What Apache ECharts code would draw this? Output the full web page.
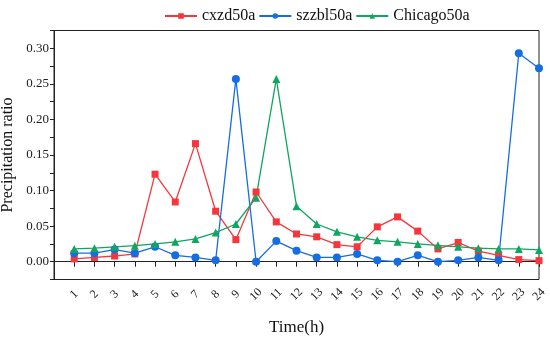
<!DOCTYPE html>
<html><head><meta charset="utf-8">
<script src="https://cdn.jsdelivr.net/npm/echarts@6/dist/echarts.min.js"></script>
<style>html,body{margin:0;padding:0;background:#fff}#c{width:550px;height:338px}</style>
</head><body><div id="c"></div>
<script>
const hours = [1,2,3,4,5,6,7,8,9,10,11,12,13,14,15,16,17,18,19,20,21,22,23,24];
const cxzd50a = [0.004,0.006,0.008,0.011,0.123,0.084,0.166,0.071,0.031,0.098,0.056,0.039,0.035,0.024,0.021,0.049,0.063,0.043,0.018,0.027,0.015,0.009,0.003,0.0015];
const szzbl50a = [0.012,0.012,0.017,0.012,0.021,0.009,0.006,0.002,0.257,0.000,0.029,0.0155,0.006,0.006,0.011,0.002,0.000,0.009,0.000,0.002,0.006,0.002,0.293,0.272];
const chicago50a = [0.018,0.019,0.021,0.0225,0.025,0.028,0.032,0.041,0.053,0.090,0.257,0.078,0.053,0.042,0.035,0.030,0.028,0.025,0.023,0.021,0.019,0.018,0.018,0.0165];
const seriesNames = ['cxzd50a','szzbl50a','Chicago50a'];

const font = 'Liberation Serif';
const pair = arr => hours.map((h,i)=>[h,arr[i]]);
const chart = echarts.init(document.getElementById('c'), null, {renderer:'canvas'});
chart.setOption({
  animation:false,
  textStyle:{fontFamily:font},
  legend:{
    top:3, left:159, itemWidth:32, itemHeight:7, itemGap:3,
    textStyle:{fontFamily:font,fontSize:16,color:'#111'},
    data:seriesNames
  },
  grid:{left:54,right:11,top:30.5,bottom:58.5,show:true,borderColor:'#222',borderWidth:1,containLabel:false,outerBoundsMode:'none'},
  xAxis:{
    type:'value', min:0, max:24, interval:1,
    name:'Time(h)', nameLocation:'middle', nameGap:40,
    nameTextStyle:{fontFamily:font,fontSize:17,color:'#111'},
    axisLine:{show:true,lineStyle:{color:'#222'}},
    axisTick:{show:true,inside:false,length:5,lineStyle:{color:'#222'}},
    axisLabel:{rotate:45,fontFamily:font,fontSize:12,color:'#222',margin:15,
      align:'center',verticalAlign:'middle',
      formatter:v=> v===0?'':String(v)},
    splitLine:{show:false}
  },
  yAxis:{
    type:'value', min:-0.025, max:0.325, interval:0.025,
    name:'Precipitation ratio', nameLocation:'middle', nameGap:32,
    nameTextStyle:{fontFamily:font,fontSize:16,color:'#111'},
    axisLine:{show:true,lineStyle:{color:'#222'}},
    axisTick:{show:true,inside:false,length:4,lineStyle:{color:'#222'}},
    axisLabel:{fontFamily:font,fontSize:13,color:'#222',margin:5,
      formatter:v=>{const k=Math.round(v*1000); if(k<0||k%50!==0) return ''; return (k/1000).toFixed(2);}},
    splitLine:{show:false}
  },
  series:[
    {name:seriesNames[0],type:'line',data:pair(cxzd50a),symbol:'rect',symbolSize:7,
     itemStyle:{color:'#f5373d'},lineStyle:{width:1.3,color:'#f5373d'}},
    {name:seriesNames[1],type:'line',data:pair(szzbl50a),symbol:'circle',symbolSize:8,
     itemStyle:{color:'#156de3'},lineStyle:{width:1.3,color:'#156de3'}},
    {name:seriesNames[2],type:'line',data:pair(chicago50a),symbol:'triangle',symbolSize:8,
     itemStyle:{color:'#10a560'},lineStyle:{width:1.3,color:'#10a560'}}
  ]
});
</script></body></html>
